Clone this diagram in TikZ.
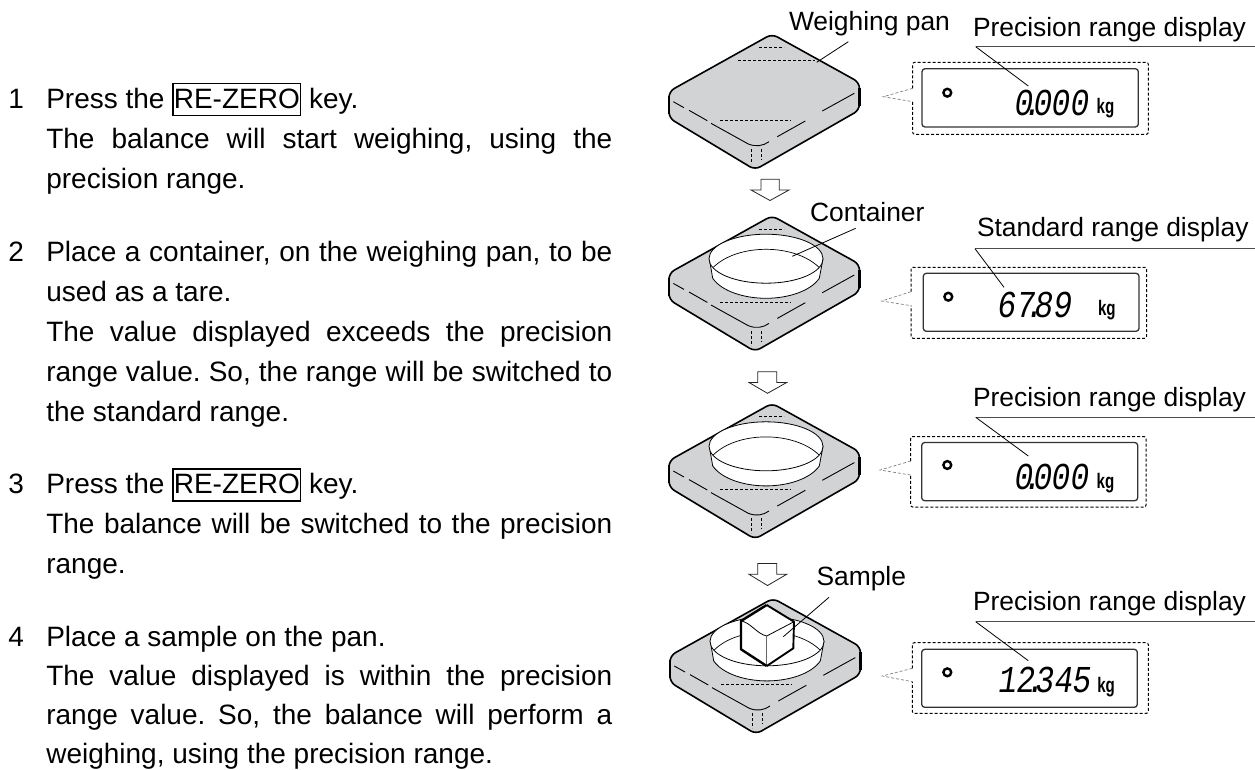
\documentclass[tikz,border=0pt]{standalone}
\usepackage{fontspec}
\setmainfont{Liberation Sans}
\newfontfamily\lcdfont[FakeSlant=0.15,FakeStretch=0.82]{Liberation Mono}
\newfontfamily\kgfont[FakeStretch=0.72]{Liberation Sans Bold}
\definecolor{pangray}{HTML}{D2D3D5}
\AtBeginDocument{\frenchspacing}
\newcommand{\jl}[1]{\makebox[566pt][s]{#1}}
\newcommand{\keybox}[1]{{\fboxsep=0pt\fboxrule=1.5pt\fbox{\rule[-6.5pt]{0pt}{30.3pt}#1}}}
\newcommand{\lcddot}{\makebox[0pt]{.}}
\tikzset{
  bodytext/.style={anchor=base west,inner sep=0pt,outer sep=0pt,font=\fontsize{28}{30}\selectfont},
  labeltext/.style={anchor=base west,inner sep=0pt,outer sep=0pt,font=\fontsize{26.4}{28}\selectfont},
  lcdtext/.style={anchor=base west,inner sep=0pt,outer sep=0pt,font=\fontsize{38}{38}\lcdfont},
  kgtext/.style={anchor=base west,inner sep=0pt,outer sep=0pt,font=\fontsize{21}{21}\kgfont},
  leader/.style={draw=black,line width=0.8pt},
  underl/.style={draw=black!70,line width=1.4pt},
  panout/.style={draw=black,line width=1.6pt,fill=pangray,rounded corners=6pt},
  panedge/.style={draw=black,line width=2.6pt},
  panline/.style={draw=black,line width=0.9pt},
  pandash/.style={draw=black,line width=1pt,dash pattern=on 3pt off 2pt},
  bowl/.style={draw=black,line width=0.8pt,fill=white},
  bowlin/.style={draw=black,line width=0.7pt},
  callout/.style={draw=black,line width=1pt,dash pattern=on 3pt off 2pt,rounded corners=2pt},
  notch/.style={draw=black!50,line width=0.7pt,dash pattern=on 3pt off 2pt},
  lcdbox/.style={draw=black!80,line width=1.3pt,rounded corners=3pt},
  downarrow/.style={draw=black!85,line width=0.8pt,fill=white},
  lamp/.style={draw=black,line width=2.4pt},
}
\newcommand{\panshape}[2]{%
  \begin{scope}[shift={(#1,#2)}]
    \draw[panout] (772,34) -- (859.5,82.5) -- (859.5,110) -- (755,169.8) -- (669,118) -- (669,91.4) -- cycle;
    \draw[panedge] (669,96) -- (669,114);
    \draw[panedge] (859.5,88) -- (859.5,106);
    \draw[panline] (673.3,101.7) -- (684,107.7);
    \draw[panline] (689,110.3) -- (707.3,120.7);
    \draw[panline] (711,123.3) -- (748.3,144) .. controls (756,147) and (763,146) .. (769,141.7);
    \draw[panline] (777.3,136.7) -- (805.3,121);
    \draw[panline] (822.3,111) -- (854.3,93.3);
    \draw[pandash] (720,120.3) -- (791,120.3);
    \draw[pandash] (751.3,149) -- (751.3,164);
    \draw[pandash] (761.3,149) -- (761.3,160);
  \end{scope}}
\newcommand{\pantopdash}[2]{%
  \begin{scope}[shift={(#1,#2)}]
    \draw[pandash] (759,47.3) -- (784,47.3);
  \end{scope}}
\newcommand{\panbowl}[2]{%
  \begin{scope}[shift={(#1,#2)}]
    \draw[bowl] (709.3,77) -- (712.7,96.6) .. controls (722,110) and (745,116.6) .. (766,116.6) .. controls (787,116.6) and (810,110) .. (819.3,96.6) -- (823,77) -- cycle;
    \draw[bowl] (766,77) ellipse [x radius=57pt,y radius=24.5pt];
    \draw[bowlin] (713.3,85.6) .. controls (725,74) and (745,67.6) .. (766,67.6) .. controls (787,67.6) and (807,74) .. (819,85.6);
  \end{scope}}
\begin{document}
\begin{tikzpicture}[x=1pt,y=-1pt]
\useasboundingbox (0,0) rectangle (1255,769);

% left column
\node[bodytext] (n1) at (8.5,108) {1};
\node[bodytext] (l1a) at (46.3,108) {Press the \keybox{RE-ZERO} key.};
\node[bodytext] (l1b) at (46.3,148) {\jl{The balance will start weighing, using the}};
\node[bodytext] (l1c) at (46.3,188) {precision range.};
\node[bodytext] (n2) at (8.5,261) {2};
\node[bodytext] (l2a) at (46.3,261) {\jl{Place a container, on the weighing pan, to be}};
\node[bodytext] (l2b) at (46.3,301) {used as a tare.};
\node[bodytext] (l2c) at (46.3,341) {\jl{The value displayed exceeds the precision}};
\node[bodytext] (l2d) at (46.3,381) {\jl{range value. So, the range will be switched to}};
\node[bodytext] (l2e) at (46.3,421) {the standard range.};
\node[bodytext] (n3) at (8.5,493.5) {3};
\node[bodytext] (l3a) at (46.3,493.5) {Press the \keybox{RE-ZERO} key.};
\node[bodytext] (l3b) at (46.3,533.5) {\jl{The balance will be switched to the precision}};
\node[bodytext] (l3c) at (46.3,573.5) {range.};
\node[bodytext] (n4) at (8.5,646) {4};
\node[bodytext] (l4a) at (46.3,646) {Place a sample on the pan.};
\node[bodytext] (l4b) at (46.3,685) {\jl{The value displayed is within the precision}};
\node[bodytext] (l4c) at (46.3,724.5) {\jl{range value. So, the balance will perform a}};
\node[bodytext] (l4d) at (46.3,763) {weighing, using the precision range.};

% pans
\panshape{0}{0}
\pantopdash{0}{0}
\begin{scope}\draw[pandash] (738,60.3) -- (815,60.3);\end{scope}
\panshape{0}{181.7}
\pantopdash{0}{181.7}
\panbowl{0}{181.7}
\panshape{0}{369.3}
\pantopdash{0}{369.3}
\panbowl{0}{369.3}
\panshape{1}{564.3}
\panbowl{1}{564.3}

% arrows
\draw[downarrow] (761,179.3) -- (779.3,179.3) -- (779.3,190) -- (789,190) -- (770,200.5) -- (751,190) -- (761,190) -- cycle;
\draw[downarrow] (757.7,371.7) -- (776.7,371.7) -- (776.7,382.5) -- (786.7,382.5) -- (767.5,393.3) -- (749,382.5) -- (757.7,382.5) -- cycle;
\draw[downarrow] (757.7,563.5) -- (776.7,563.5) -- (776.7,574.3) -- (786.7,574.3) -- (767.5,585.5) -- (749,574.3) -- (757.7,574.3) -- cycle;

% sample cube
\fill[white] (766.7,605) -- (794,621.7) -- (793.3,648.3) -- (766.7,666) -- (741,649.3) -- (741,621) -- cycle;
\draw[line width=0.8pt] (741,621) .. controls (750,622) and (757,634) .. (766.7,636) -- (794,621.7);
\draw[draw=black!60,line width=0.9pt] (766.7,636) -- (766.7,666);
\draw[line width=2.4pt,line join=round] (766.7,605) -- (741,621) -- (741,649.3) -- (766.7,666);
\draw[line width=1.9pt,line join=round] (766.7,605) -- (794,621.7) -- (793.3,648.3) -- (766.7,666);

% display 1
\draw[callout] (912.7,88.3) -- (912.7,62.3) -- (1148.3,62.3) -- (1148.3,134.3) -- (912.7,134.3) -- (912.7,101.7);
\draw[notch] (912.7,88.3) -- (883.3,96.7) -- (912.7,101.7);
\draw[lcdbox] (922,68.7) rectangle (1138.3,127);
\draw[lamp] (947.3,92.7) circle [radius=3.9pt];
\node[lcdtext] (d1) at (1013.5,115) {0\lcddot000};
\node[kgtext] (k1) at (1096.7,113.3) {kg};

% display 2
\draw[callout] (911,291.7) -- (911,267.3) -- (1146.7,267.3) -- (1146.7,338.3) -- (911,338.3) -- (911,305.7);
\draw[notch] (911,291.7) -- (881.7,301) -- (911,305.7);
\draw[lcdbox] (923.3,273.3) rectangle (1139,331.3);
\draw[lamp] (948.3,296.7) circle [radius=3.9pt];
\node[lcdtext] (d2) at (996.5,317.3) {67\lcddot89};
\node[kgtext] (k2) at (1098,315) {kg};

% display 3
\draw[callout] (910.7,461) -- (910.7,436.5) -- (1146,436.5) -- (1146,507) -- (910.7,507) -- (910.7,475);
\draw[notch] (910.7,461) -- (880,470) -- (910.7,475);
\draw[lcdbox] (921.7,442.5) rectangle (1137.7,500.7);
\draw[lamp] (947.3,465) circle [radius=3.9pt];
\node[lcdtext] (d3) at (1013.5,489) {0\lcddot000};
\node[kgtext] (k3) at (1096.7,488.3) {kg};

% display 4
\draw[callout] (912.3,668.3) -- (912.3,642.7) -- (1148.3,642.7) -- (1148.3,713.3) -- (912.3,713.3) -- (912.3,681.7);
\draw[notch] (912.3,668.3) -- (882.3,676) -- (912.3,681.7);
\draw[lcdbox] (921.7,649.3) rectangle (1137.3,707.3);
\draw[lamp] (947.3,672.3) circle [radius=3.9pt];
\node[lcdtext] (d4) at (997,692.3) {12\lcddot345};
\node[kgtext] (k4) at (1097.3,692.3) {kg};

% labels
\node[labeltext] (lbpan) at (789,30.7) {Weighing pan};
\node[labeltext] (lbcont) at (810,221.7) {Container};
\node[labeltext] (lbsamp) at (816.5,585) {Sample};
\node[labeltext] (lbd1) at (973,36) {Precision range display};
\node[labeltext] (lbd2) at (977,236.7) {Standard range display};
\node[labeltext] (lbd3) at (973,406.7) {Precision range display};
\node[labeltext] (lbd4) at (973,610.7) {Precision range display};

% leaders
\coordinate (pa) at (848.3,41.7); \coordinate (pb) at (816.7,62.3);
\coordinate (ca) at (855.7,228.3); \coordinate (cb) at (792.3,256.3);
\coordinate (sa) at (829,597.3); \coordinate (sb) at (783.3,636.7);
\draw[leader] (pa) -- (pb);
\draw[leader] (ca) -- (cb);
\draw[leader] (sa) -- (sb);

\coordinate (u1a) at (975.7,46.7); \coordinate (u1b) at (1255,46.7); \coordinate (u1c) at (1028.3,86);
\coordinate (u2a) at (975,248.7); \coordinate (u2b) at (1255,248.7); \coordinate (u2c) at (1004,287.3);
\coordinate (u3a) at (975.7,417.3); \coordinate (u3b) at (1255,417.3); \coordinate (u3c) at (1028.3,456);
\coordinate (u4a) at (975.7,621.7); \coordinate (u4b) at (1255,621.7); \coordinate (u4c) at (1028.3,660.7);
\draw[underl] (u1a) -- (u1b); \draw[leader] (u1a) -- (u1c);
\draw[underl] (u2a) -- (u2b); \draw[leader] (u2a) -- (u2c);
\draw[underl] (u3a) -- (u3b); \draw[leader] (u3a) -- (u3c);
\draw[underl] (u4a) -- (u4b); \draw[leader] (u4a) -- (u4c);
\end{tikzpicture}
\end{document}
